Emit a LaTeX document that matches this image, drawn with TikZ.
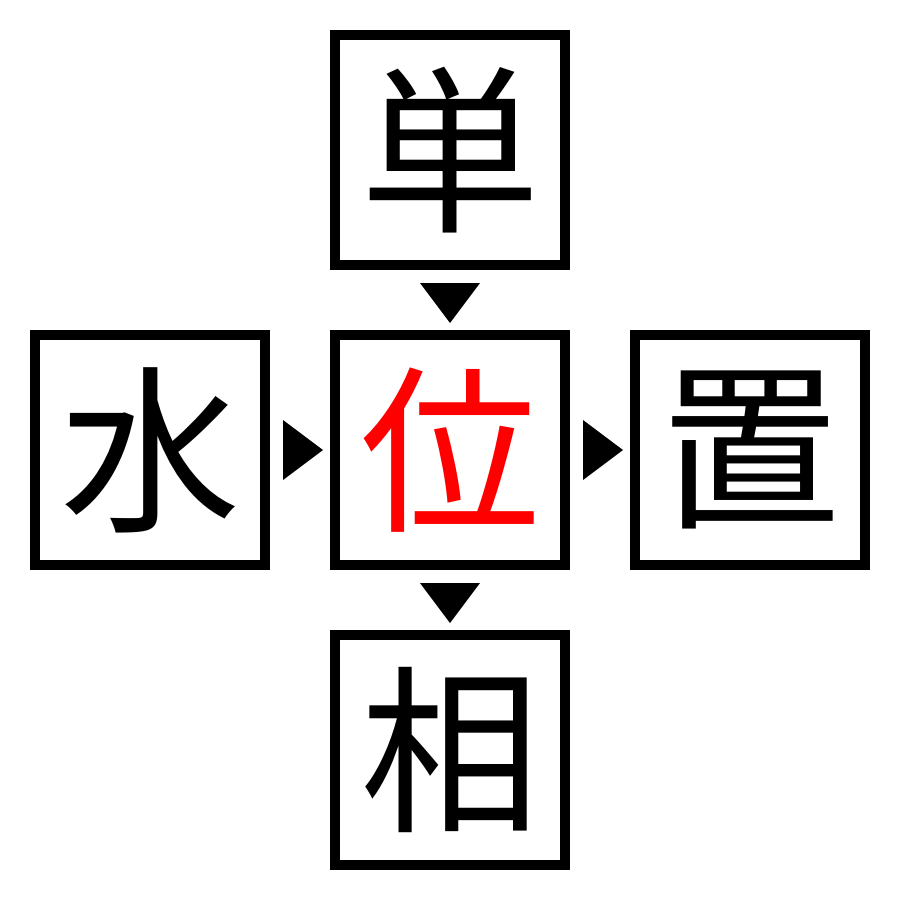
\documentclass[tikz,border=0pt]{standalone}
\usepackage{fontspec}
\newfontfamily\cjk{Noto Sans CJK JP}
\usetikzlibrary{calc}
\begin{document}
\begin{tikzpicture}[x=1pt,y=-1pt,
  box/.style={draw=black,line width=10pt,minimum size=230pt,inner sep=0pt,font=\cjk\fontsize{180}{180}\selectfont},
  tri/.style={fill=black}]
\useasboundingbox (0,0) rectangle (900,900);
\node[box] (t) at (450,150) {単};
\node[box] (l) at (150,450) {水};
\node[box,text=red] (c) at (450,450) {位};
\node[box] (r) at (750,450) {置};
\node[box] (b) at (450,750) {相};
\fill[tri] ($(t.south)+(-30,13)$) -- ($(t.south)+(30,13)$) -- ($(t.south)+(0,53)$) -- cycle;
\fill[tri] ($(c.south)+(-30,13)$) -- ($(c.south)+(30,13)$) -- ($(c.south)+(0,53)$) -- cycle;
\fill[tri] ($(l.east)+(13,-30)$) -- ($(l.east)+(13,30)$) -- ($(l.east)+(53,0)$) -- cycle;
\fill[tri] ($(c.east)+(13,-30)$) -- ($(c.east)+(13,30)$) -- ($(c.east)+(53,0)$) -- cycle;
\end{tikzpicture}
\end{document}
